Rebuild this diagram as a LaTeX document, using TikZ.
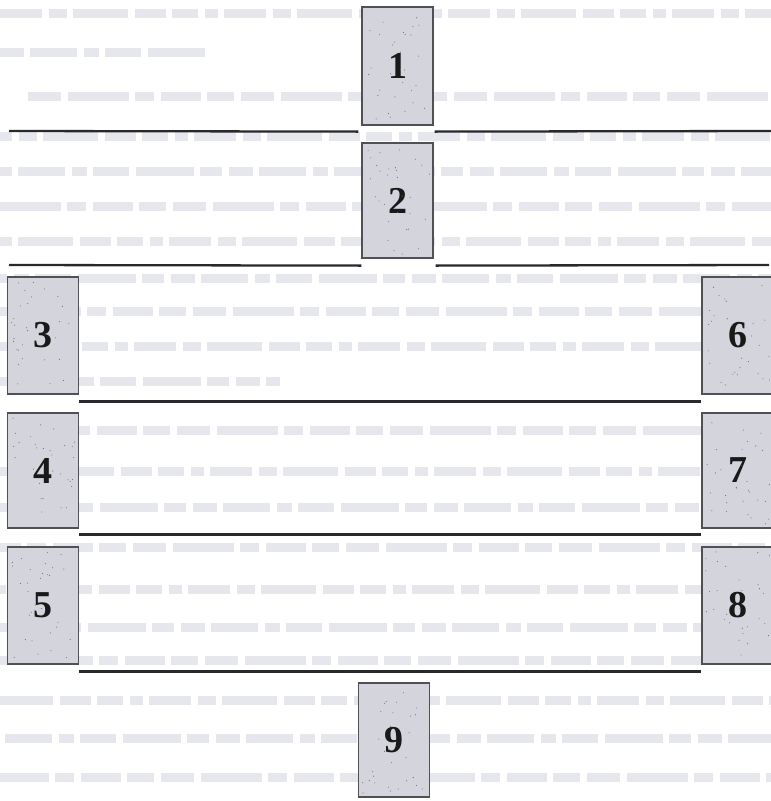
\documentclass[tikz,border=0pt]{standalone}
\usepackage{fontspec}
\setmainfont{Liberation Serif}
\usetikzlibrary{calc}
\definecolor{boxfill}{RGB}{212,213,220}
\definecolor{boxedge}{RGB}{80,80,85}
\definecolor{rulecol}{RGB}{40,40,45}
\definecolor{txtcol}{RGB}{230,231,237}
\definecolor{speck}{RGB}{110,110,120}
\tikzset{
  numbox/.style={draw=boxedge, line width=1.2pt, fill=boxfill, inner sep=0pt,
    minimum width=71pt, minimum height=116pt, font=\fontsize{38}{38}\selectfont\bfseries, text=black!90},
  sepline/.style={draw=rulecol, line width=2.3pt},
  txtA/.style={draw=txtcol, line width=9pt, dash pattern=on 42pt off 7pt on 18pt off 6pt on 55pt off 7pt on 31pt off 6pt on 26pt off 7pt on 13pt off 6pt},
  txtB/.style={draw=txtcol, line width=9pt, dash pattern=on 24pt off 6pt on 47pt off 7pt on 15pt off 6pt on 36pt off 7pt on 58pt off 6pt on 22pt off 7pt},
  txtC/.style={draw=txtcol, line width=9pt, dash pattern=on 33pt off 7pt on 61pt off 6pt on 19pt off 7pt on 40pt off 6pt on 27pt off 7pt},
}
\begin{document}
\begin{tikzpicture}[x=1pt,y=-1pt]
\useasboundingbox (0,0) rectangle (771,801);
\clip (0,0) rectangle (771,801);
\fill[white] (0,0) rectangle (771,801);
% faint background text rows
\draw[txtA] (0,13) -- (771,13);
\draw[txtB] (0,52) -- (205,52);
\draw[txtC] (28,96) -- (771,96);
\draw[txtA, dash phase=30pt] (0,136) -- (771,136);
\draw[txtB, dash phase=12pt] (0,171) -- (771,171);
\draw[txtC, dash phase=40pt] (0,206) -- (771,206);
\draw[txtA, dash phase=55pt] (0,241) -- (771,241);
\draw[txtB, dash phase=70pt] (0,278) -- (771,278);
\draw[txtC, dash phase=20pt] (0,311) -- (771,311);
\draw[txtA, dash phase=90pt] (0,346) -- (771,346);
\draw[txtB, dash phase=5pt] (0,381) -- (280,381);
\draw[txtC, dash phase=66pt] (30,430) -- (771,430);
\draw[txtA, dash phase=14pt] (0,471) -- (771,471);
\draw[txtB, dash phase=48pt] (0,507) -- (771,507);
\draw[txtC, dash phase=80pt] (0,547) -- (771,547);
\draw[txtA, dash phase=36pt] (0,589) -- (771,589);
\draw[txtB, dash phase=60pt] (0,627) -- (771,627);
\draw[txtC, dash phase=8pt] (0,660) -- (771,660);
\draw[txtA, dash phase=75pt] (0,700) -- (771,700);
\draw[txtB, dash phase=25pt] (0,738) -- (771,738);
\draw[txtC, dash phase=52pt] (0,777) -- (771,777);
% boxes
\node[numbox, minimum height=118pt] (b1) at (397.5,66) {1};
\node[numbox, minimum height=115pt] (b2) at (397.5,200.5) {2};
\node[numbox, minimum height=117pt] (b3) at (43,335.5) {3};
\node[numbox, minimum height=115pt] (b4) at (43,470.5) {4};
\node[numbox, minimum height=117pt] (b5) at (43,605.5) {5};
\node[numbox, minimum height=117pt] (b6) at (737.5,335.5) {6};
\node[numbox, minimum height=115pt] (b7) at (737.5,470.5) {7};
\node[numbox, minimum height=117pt] (b8) at (737.5,605.5) {8};
\node[numbox, minimum height=114pt] (b9) at (394,740) {9};
% speckle texture
\pgfmathsetseed{42}
\foreach \b in {b1,b2,b3,b4,b5,b6,b7,b8,b9}{
  \foreach \i in {1,...,30}{
    \pgfmathsetmacro\rx{rand*32}
    \pgfmathsetmacro\ry{rand*54}
    \fill[speck] ($(\b.center)+(\rx,\ry)$) circle (0.55pt);
  }
}
% separator lines
\coordinate (l1a) at (9,131);
\coordinate (l1b) at (771,131);
\draw[sepline] (l1a) -- ($(b1.south west)+(-3,6)$);
\draw[sepline] ($(b1.south east)+(1,6)$) -- (l1b);
\coordinate (l2a) at (9,265);
\coordinate (l2b) at (769,265);
\draw[sepline] (l2a) -- ($(b2.south west)+(0,7)$);
\draw[sepline] ($(b2.south east)+(2,7)$) -- (l2b);
\draw[sepline] ($(b3.south east)+(0,7)$) -- ($(b6.south west)+(0,7)$);
\draw[sepline] ($(b4.south east)+(0,6)$) -- ($(b7.south west)+(0,6)$);
\draw[sepline] ($(b5.south east)+(0,7)$) -- ($(b8.south west)+(0,7)$);
\end{tikzpicture}
\end{document}
